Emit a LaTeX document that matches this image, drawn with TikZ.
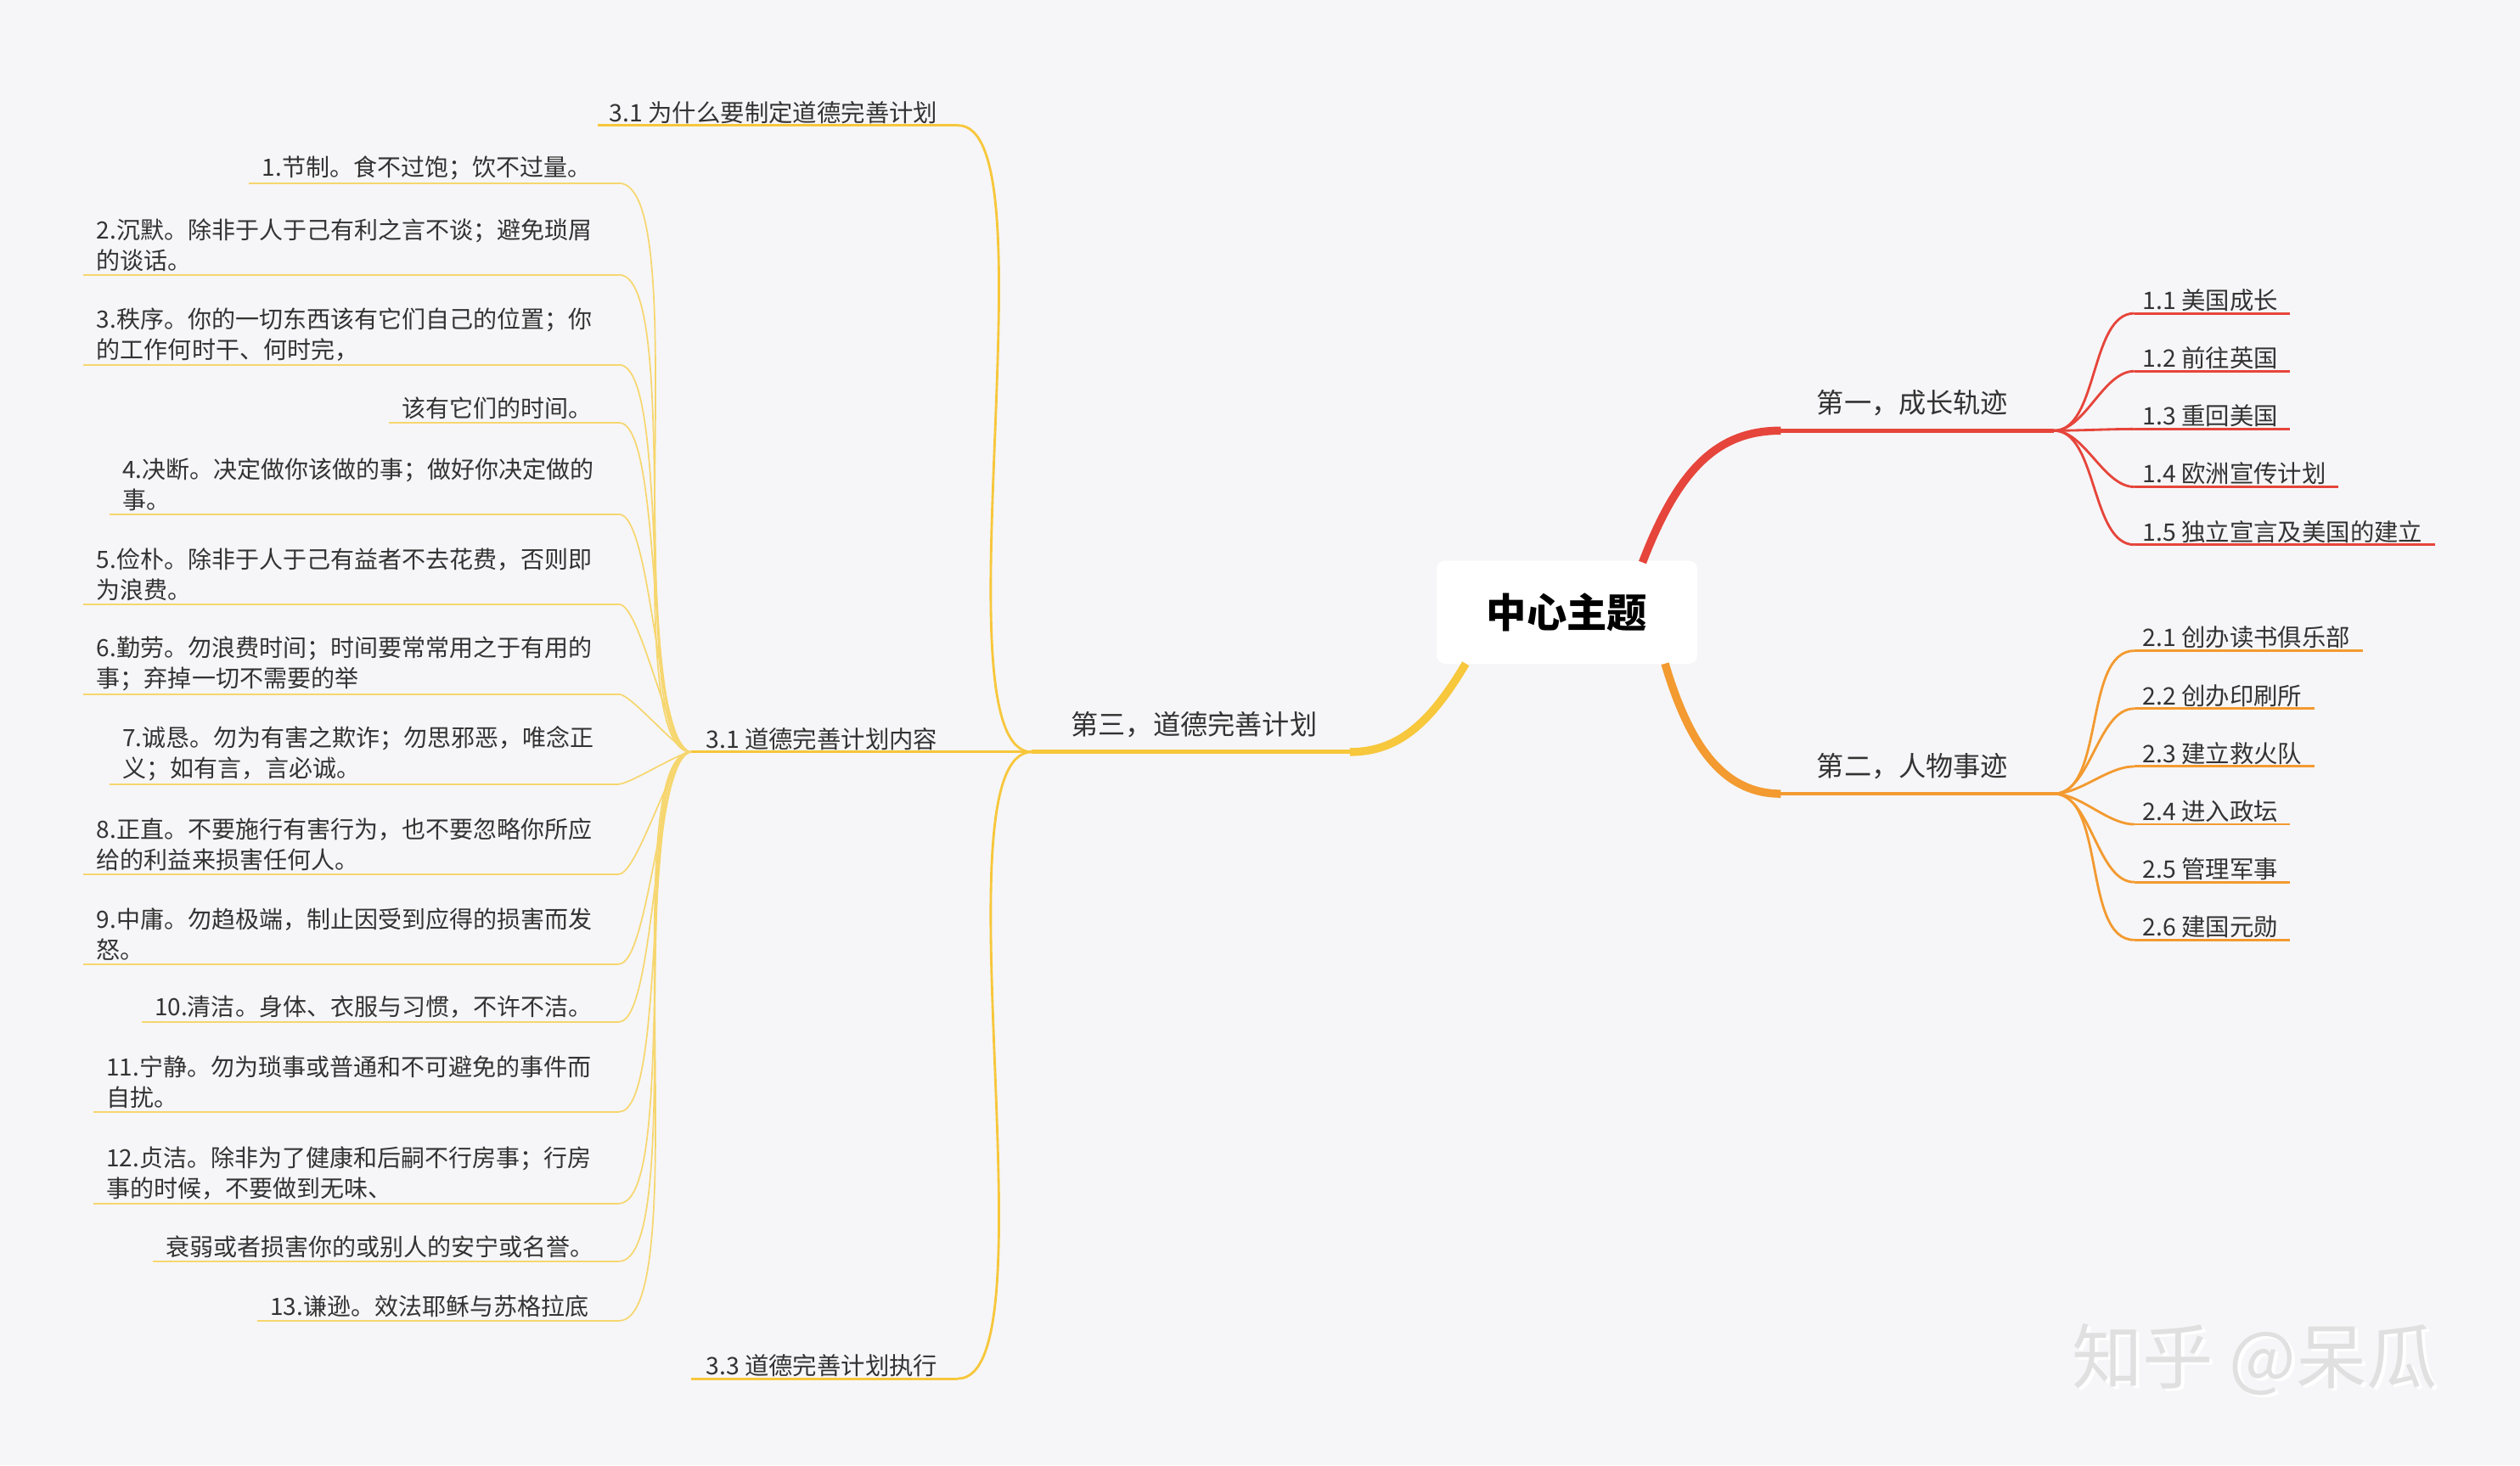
\documentclass[tikz,border=0pt]{standalone}
\usepackage{fontspec}
\setmainfont{Noto Sans CJK SC}
\definecolor{bg}{HTML}{F6F6F8}
\definecolor{cR}{HTML}{E6453B}
\definecolor{cO}{HTML}{F39A30}
\definecolor{cY}{HTML}{F7C73C}
\definecolor{cY2}{HTML}{F6D66E}
\definecolor{tx}{HTML}{333333}
\newcommand{\mmitem}[5]{% name, left, ul, right, text
  \coordinate (#1L) at (#2,#3); \coordinate (#1R) at (#4,#3);
  \node[itm,anchor=south west] (#1) at (#2+5,#3+1) {#5};
  \draw[iline] (#1L) -- (#1R);
  \draw[iline] (hub) to[out=180,in=0,looseness=0.35] (#1R);}
\begin{document}
\begin{tikzpicture}[x=1pt,y=-1pt,
  itm/.style={inner sep=3pt,font=\fontsize{14.8}{19}\selectfont,text=tx,align=left},
  sub/.style={inner sep=3pt,font=\fontsize{15}{19}\selectfont,text=tx},
  br/.style={inner sep=3pt,font=\fontsize{17}{21}\selectfont,text=tx},
  iline/.style={cY2,line width=0.9pt},
  rl/.style={cR,line width=1.5pt},ol/.style={cO,line width=1.5pt}]
\fill[bg] (0,0) rectangle (1568,912);
\useasboundingbox (0,0) rectangle (1568,912);
% center
\node[fill=white,rounded corners=5pt,minimum width=162pt,minimum height=64pt,font=\fontsize{25}{30}\selectfont\bfseries] (c) at (975,381) {中心主题};
% red branch
\coordinate (rS) at (1022,350); \coordinate (rM) at (1108,268); \coordinate (rE) at (1278,268);
\draw[cR,line width=5pt] (rS) .. controls (1045,290) and (1070,268) .. (rM);
\draw[cR,line width=2.5pt] (rM) -- (rE);
\node[br,anchor=south] (r) at (1190,262) {第一，成长轨迹};
\foreach \n/\y/\w/\t in {r1/195/1425/1.1 美国成长,r2/231/1425/1.2 前往英国,r3/267/1425/1.3 重回美国,r4/303/1455/1.4 欧洲宣传计划,r5/339/1515/1.5 独立宣言及美国的建立}{
  \coordinate (\n L) at (1328,\y); \coordinate (\n R) at (\w,\y);
  \node[sub,anchor=south west] (\n) at (1330,\y+2) {\t};
  \draw[rl] (\n L) -- (\n R);
  \draw[rl] (rE) to[out=0,in=180,looseness=0.8] (\n L);}
% orange branch
\coordinate (oS) at (1036,413); \coordinate (oM) at (1108,494); \coordinate (oE) at (1278,494);
\draw[cO,line width=5pt] (oS) .. controls (1050,460) and (1070,494) .. (oM);
\draw[cO,line width=2.5pt] (oM) -- (oE);
\node[br,anchor=south] (o) at (1190,488) {第二，人物事迹};
\foreach \n/\y/\w/\t in {o1/405/1470/2.1 创办读书俱乐部,o2/441/1440/2.2 创办印刷所,o3/477/1440/2.3 建立救火队,o4/513/1425/2.4 进入政坛,o5/549/1425/2.5 管理军事,o6/585/1425/2.6 建国元勋}{
  \coordinate (\n L) at (1328,\y); \coordinate (\n R) at (\w,\y);
  \node[sub,anchor=south west] (\n) at (1330,\y+2) {\t};
  \draw[ol] (\n L) -- (\n R);
  \draw[ol] (oE) to[out=0,in=180,looseness=0.8] (\n L);}
% yellow branch
\coordinate (yS) at (912,413); \coordinate (yM) at (840,468); \coordinate (yE) at (642,468);
\draw[cY,line width=5pt] (yS) .. controls (890,450) and (870,468) .. (yM);
\draw[cY,line width=2.5pt] (yM) -- (yE);
\node[br,anchor=south] (y) at (743,462) {第三，道德完善计划};
\coordinate (s1L) at (372,78); \coordinate (s1R) at (596,78);
\coordinate (s2L) at (430,468); \coordinate (s2R) at (596,468);
\coordinate (s3L) at (430,858); \coordinate (s3R) at (596,858);
\node[sub,anchor=south west] (s1) at (376,80) {3.1 为什么要制定道德完善计划};
\node[sub,anchor=south west] (s2) at (436,470) {3.1 道德完善计划内容};
\node[sub,anchor=south west] (s3) at (436,860) {3.3 道德完善计划执行};
\foreach \n in {s1,s2,s3}{
  \draw[cY,line width=1.5pt] (\n L) -- (\n R);
  \draw[cY,line width=1.5pt] (yE) to[out=180,in=0,looseness=0.4] (\n R);}
\coordinate (hub) at (s2L);
\mmitem{i1}{155}{114}{385}{1.节制。食不过饱；饮不过量。}
\mmitem{i2}{52}{171}{385}{2.沉默。除非于人于己有利之言不谈；避免琐屑\\的谈话。}
\mmitem{i3}{52}{227}{385}{3.秩序。你的一切东西该有它们自己的位置；你\\的工作何时干、何时完，}
\mmitem{i4}{242}{263}{385}{该有它们的时间。}
\mmitem{i5}{68}{320}{385}{4.决断。决定做你该做的事；做好你决定做的\\事。}
\mmitem{i6}{52}{376}{385}{5.俭朴。除非于人于己有益者不去花费，否则即\\为浪费。}
\mmitem{i7}{52}{432}{385}{6.勤劳。勿浪费时间；时间要常常用之于有用的\\事；弃掉一切不需要的举}
\mmitem{i8}{68}{488}{385}{7.诚恳。勿为有害之欺诈；勿思邪恶，唯念正\\义；如有言，言必诚。}
\mmitem{i9}{52}{544}{385}{8.正直。不要施行有害行为，也不要忽略你所应\\给的利益来损害任何人。}
\mmitem{i10}{52}{600}{385}{9.中庸。勿趋极端，制止因受到应得的损害而发\\怒。}
\mmitem{i11}{88}{636}{385}{10.清洁。身体、衣服与习惯，不许不洁。}
\mmitem{i12}{58}{692}{385}{11.宁静。勿为琐事或普通和不可避免的事件而\\自扰。}
\mmitem{i13}{58}{749}{385}{12.贞洁。除非为了健康和后嗣不行房事；行房\\事的时候，不要做到无味、}
\mmitem{i14}{95}{785}{385}{衰弱或者损害你的或别人的安宁或名誉。}
\mmitem{i15}{160}{822}{385}{13.谦逊。效法耶稣与苏格拉底}
% watermark
\node[font=\fontsize{44}{50}\selectfont,text=white] (wm) at (1405,848) {知乎 @呆瓜};
\node[font=\fontsize{44}{50}\selectfont,text=black!12] (wm2) at (1403,846) {知乎 @呆瓜};
\end{tikzpicture}
\end{document}
